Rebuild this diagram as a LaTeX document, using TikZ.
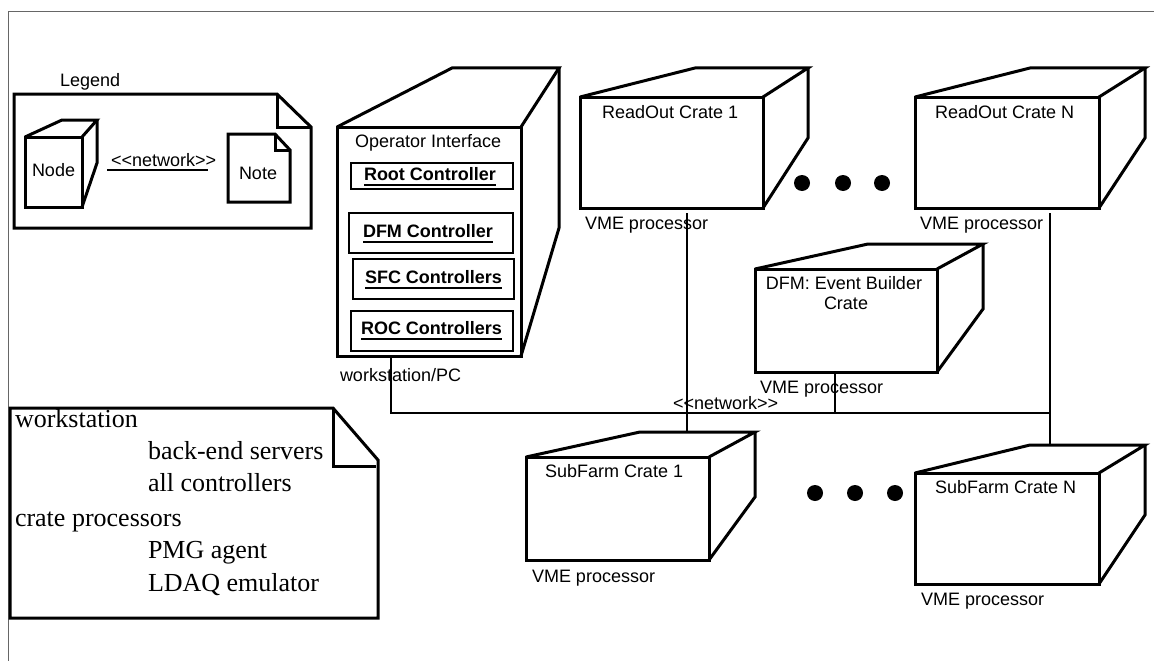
\documentclass[tikz,border=0pt]{standalone}
\usepackage{fontspec}
\setmainfont{Liberation Sans}
\newfontfamily\notefont{Liberation Serif}
\usetikzlibrary{calc}

% bold label with a thick underline a few points below the baseline
\newcommand\ulbold[1]{\setbox0\hbox{\bfseries #1}\rlap{\rule[-6pt]{\wd0}{1.6pt}}\box0}

% 3-D UML node: front face #1 from (#2,#3) to (#4,#5); back offsets #6 (left), #7 (right),
% height #8 of the top face, length #9 of the back vertical edge
\newcommand\cratebox[9]{%
  \node[cratefront, minimum width={(#4-#2)*1pt}, minimum height={(#5-#3)*1pt}]
    (#1) at ({(#2+#4)/2},{(#3+#5)/2}) {};
  \draw[crateline] (#1.north west) -- ++(#6,-#8) coordinate (#1-tl)
     -- ($(#1.north east)+(#7,-#8)$) coordinate (#1-tr) -- (#1.north east);
  \draw[crateline] (#1-tr) -- ++(0,#9) -- (#1.south east);
}

% controller component box
\newcommand\ctrlbox[5]{%
  \node[ctrl, minimum width={(#4-#2)*1pt}, minimum height={(#5-#3)*1pt}]
    (#1) at ({(#2+#4)/2},{(#3+#5)/2}) {};
}

\tikzset{
  cratefront/.style={draw, rectangle, line width=3pt, inner sep=0pt, outer sep=0pt},
  crateline/.style={line width=3pt, line join=miter},
  ctrl/.style={draw, rectangle, line width=2.6pt, inner sep=0pt, outer sep=0pt},
  bus/.style={line width=2.5pt},
  lbl/.style={inner sep=0pt, outer sep=0pt, anchor=base west, font=\fontsize{18}{20}\selectfont},
  notetext/.style={inner sep=0pt, outer sep=0pt, anchor=base west, font=\notefont\fontsize{26}{30}\selectfont},
  framestyle/.style={draw=black!60, line width=1pt},
  dot/.style={circle, fill=black, inner sep=0pt, minimum size=16pt},
}

\begin{document}
\begin{tikzpicture}[x=1pt, y=-1pt]
\useasboundingbox (0,0) rectangle (1154,661);
\fill[white] (0,0) rectangle (1154,661);

% page frame
\draw[framestyle] (8,661) -- (8,12) -- (1154,12);

% ---------------- legend ----------------
\node[lbl] (legendtitle) at (60,87) {Legend};
\draw[crateline] (14,94) -- (277,94) -- (311,127) -- (311,228) -- (14,228) -- cycle;
\draw[crateline] (277,94) -- (277,127) -- (311,127);

\cratebox{lnode}{25}{137}{82}{207}{37}{15}{17}{43}
\node[lbl] (lnodetext) at (32,176) {Node};

\draw[crateline] (228,134) -- (275,134) -- (290,150) -- (290,202) -- (228,202) -- cycle;
\draw[crateline] (275,134) -- (275,150) -- (290,150);
\node[lbl] (lnotetext) at (239,179) {Note};

\coordinate (lnetA) at (107,170);
\coordinate (lnetB) at (208,170);
\draw[bus] (lnetA) -- (lnetB);
\node[lbl] (lnetlabel) at (111,166) {<{}<network>{}>};

% ---------------- workstation ----------------
\cratebox{ws}{337}{127}{521}{356}{115}{38}{59}{160}
\node[lbl] (wstitle) at (355,147) {Operator Interface};
\ctrlbox{rootc}{351}{163}{513}{189}
\node[lbl] at (364,180) {\ulbold{Root Controller}};
\ctrlbox{dfmc}{349}{213}{513}{253}
\node[lbl] at (363,237) {\ulbold{DFM Controller}};
\ctrlbox{sfcc}{353}{259}{514}{299}
\node[lbl] at (365,283) {\ulbold{SFC Controllers}};
\ctrlbox{rocc}{351}{311}{513}{351}
\node[lbl] at (361,334) {\ulbold{ROC Controllers}};
\node[lbl] (wslabel) at (340,381) {workstation/PC};

% ---------------- readout crates ----------------
\cratebox{rc1}{580}{97}{763}{208}{115}{45}{29}{70}
\node[lbl] at (602,118) {ReadOut Crate 1};
\node[lbl] at (585,229) {VME processor};

\cratebox{rcN}{915}{97}{1099}{208}{115}{46}{29}{70}
\node[lbl] at (935,118) {ReadOut Crate N};
\node[lbl] at (920,229) {VME processor};

\node[dot] (rd1) at (802,183) {};
\node[dot] (rd2) at (843,183) {};
\node[dot] (rd3) at (882,183) {};

% ---------------- event builder ----------------
\cratebox{dfm}{755}{269}{937}{372}{113}{46}{25}{65}
\node[lbl, anchor=base] at (844,289) {DFM: Event Builder};
\node[lbl, anchor=base] at (846,309) {Crate};
\node[lbl] at (760,393) {VME processor};

% ---------------- subfarm crates ----------------
\cratebox{sf1}{526}{457}{709}{560}{114}{46}{25}{65}
\node[lbl] at (545,477) {SubFarm Crate 1};
\node[lbl] at (532,582) {VME processor};

\cratebox{sfN}{915}{473}{1099}{584}{115}{46}{28}{70}
\node[lbl] at (935,493) {SubFarm Crate N};
\node[lbl] at (921,605) {VME processor};

\node[dot] (sd1) at (815,493) {};
\node[dot] (sd2) at (855,493) {};
\node[dot] (sd3) at (895,493) {};

% ---------------- network ----------------
\coordinate (busL) at (391,413);
\coordinate (busR) at (1050,413);
\coordinate (tap1) at (687,413);
\coordinate (tapE) at (835,413);
\draw[bus] (busL |- ws.south) -- (busL) -- (busR);
\draw[bus] ([yshift=-5pt]tap1 |- rc1.south) -- (tap1 |- sf1-tl);
\draw[bus] ([yshift=-5pt]busR |- rcN.south) -- (busR |- sfN-tl);
\draw[bus] (tapE |- dfm.south) -- (tapE);
\node[lbl] (netlabel) at (673,409) {<{}<network>{}>};

% ---------------- deployment note ----------------
\draw[crateline] (10,408) -- (333,408) -- (378,460) -- (378,618) -- (10,618) -- cycle;
\draw[crateline] (333,408) -- (333,466) -- (376,466);
\node[notetext] at (15,427) {workstation};
\node[notetext] at (148,459) {back-end servers};
\node[notetext] at (148,491) {all controllers};
\node[notetext] at (15,526) {crate processors};
\node[notetext] at (148,558) {PMG agent};
\node[notetext] at (148,591) {LDAQ emulator};
\end{tikzpicture}
\end{document}
